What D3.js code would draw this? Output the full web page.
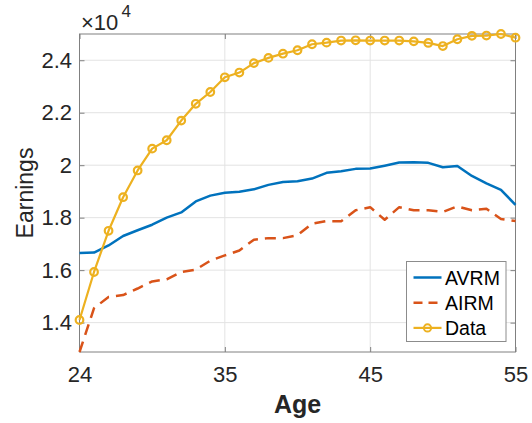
<!DOCTYPE html>
<html>
<head>
<meta charset="utf-8">
<script src="https://cdn.jsdelivr.net/npm/d3@7"></script>
<style>
    body { margin: 0; background: #fff; }
    text { font-family: "Liberation Sans", Arial, Helvetica, sans-serif; }
</style>
</head>
<body>
<div class="vis-linechart"></div>
<script>
// data (earnings, per age)
const ages = [25, 26, 27, 28, 29, 30, 31, 32, 33, 34, 35, 36, 37, 38, 39, 40,
    41, 42, 43, 44, 45, 46, 47, 48, 49, 50, 51, 52, 53, 54, 55];
const avrm = [16650, 16670, 16940, 17300, 17520, 17730, 18000, 18200, 18620, 18840, 18950,
    18990, 19080, 19250, 19360, 19390, 19490, 19710, 19770, 19860, 19870,
    19980, 20100, 20110, 20090, 19920, 19970, 19590, 19310, 19060, 18490];
const airm = [12880, 14550, 14980, 15050, 15300, 15570, 15650, 15930, 16020, 16360, 16560,
    16750, 17160, 17220, 17220, 17330, 17770, 17870, 17860, 18280, 18400,
    17920, 18400, 18280, 18280, 18220, 18430, 18280, 18340, 17950, 17870];
const earnings = [14100, 15930, 17500, 18780, 19800, 20630, 20950, 21700, 22340, 22790, 23350,
    23530, 23890, 24090, 24250, 24380, 24610, 24670, 24750, 24760, 24750,
    24750, 24750, 24720, 24660, 24540, 24800, 24930, 24940, 25000, 24860];

const xTickValues = [25, 35, 45, 55];
const xTickLabels = ['24', '35', '45', '55'];
const yTickValues = [14000, 16000, 18000, 20000, 22000, 24000];
const yTickLabels = ['1.4', '1.6', '1.8', '2', '2.2', '2.4'];

const seriesNames = ['AVRM', 'AIRM', 'Data'];
const seriesColors = ['#0072BD', '#D95319', '#EDB120'];

const W = 532, H = 423;
const margin = { top: 34, right: 16.5, bottom: 71, left: 79.5 };
const width = W - margin.left - margin.right;
const height = H - margin.top - margin.bottom;

const root = d3.select('.vis-linechart')
    .append('svg')
    .attr('width', W)
    .attr('height', H);
const svg = root.append('g')
    .attr('transform', 'translate(' + margin.left + ',' + margin.top + ')');

const series = [avrm, airm, earnings].map((vals, i) => ({
    name: seriesNames[i],
    color: seriesColors[i],
    values: ages.map((a, j) => ({ age: a, v: vals[j] }))
}));

// scales
const x = d3.scaleLinear().domain([25, 55]).range([0, width]);
const allVals = avrm.concat(airm, earnings);
const y = d3.scaleLinear().domain([d3.min(allVals), d3.max(allVals)]).range([height, 0]);

// grid
const grid = svg.append('g').attr('class', 'grid');
grid.selectAll('.gx')
    .data(xTickValues.slice(1, -1))
    .join('line')
    .attr('x1', d => x(d)).attr('x2', d => x(d))
    .attr('y1', 0).attr('y2', height)
    .attr('stroke', '#e3e3e3').attr('stroke-width', 1);
grid.selectAll('.gy')
    .data(yTickValues)
    .join('line')
    .attr('x1', 0).attr('x2', width)
    .attr('y1', d => y(d)).attr('y2', d => y(d))
    .attr('stroke', '#e3e3e3').attr('stroke-width', 1);

// axes (ticks pointing inward, MATLAB style)
const axisColor = '#808080';
const fontSize = 22;

svg.append('g')
    .attr('transform', 'translate(0,' + height + ')')
    .call(d3.axisBottom(x)
        .tickValues(xTickValues)
        .tickFormat((d, i) => xTickLabels[i])
        .tickSizeInner(-5).tickSizeOuter(0).tickPadding(14.5));
svg.append('g')
    .call(d3.axisLeft(y)
        .tickValues(yTickValues)
        .tickFormat((d, i) => yTickLabels[i])
        .tickSizeInner(-5).tickSizeOuter(0).tickPadding(7.5));
// top / right ticks
svg.append('g')
    .call(d3.axisTop(x).tickValues(xTickValues).tickFormat('').tickSizeInner(-5).tickSizeOuter(0));
svg.append('g')
    .attr('transform', 'translate(' + width + ',0)')
    .call(d3.axisRight(y).tickValues(yTickValues).tickFormat('').tickSizeInner(-5).tickSizeOuter(0));

svg.selectAll('.domain').remove();
svg.selectAll('.tick line').attr('stroke', axisColor);
svg.selectAll('.tick text')
    .attr('fill', '#262626')
    .style('font-size', fontSize + 'px');

svg.append('rect')
    .attr('width', width).attr('height', height)
    .attr('fill', 'none')
    .attr('stroke', axisColor).attr('stroke-width', 1);

// exponent label above the y axis
root.append('text')
    .attr('x', 81).attr('y', 29.5)
    .attr('fill', '#262626')
    .attr('font-size', 22)
    .text('\u00d710');
root.append('text')
    .attr('x', 121.5).attr('y', 17)
    .attr('fill', '#262626')
    .attr('font-size', 17)
    .text('4');

// labels
svg.append('text')
    .attr('transform', 'translate(' + (-47) + ',' + (height / 2) + ')rotate(-90)')
    .attr('text-anchor', 'middle')
    .attr('fill', '#262626')
    .style('font-size', '23px')
    .text('Earnings');
svg.append('text')
    .attr('x', width / 2).attr('y', height + 61)
    .attr('text-anchor', 'middle')
    .attr('fill', '#262626')
    .style('font-size', '25px')
    .style('font-weight', 'bold')
    .text('Age');

// lines
const lineGen = d3.line()
    .x(d => x(d.age))
    .y(d => y(d.v));

const lineLayer = svg.append('g').attr('id', 'lineLayer');
series.forEach((s, i) => {
    lineLayer.append('path')
        .attr('d', lineGen(s.values))
        .attr('fill', 'none')
        .attr('stroke', s.color)
        .attr('stroke-width', i === 2 ? 2.2 : 2.5)
        .attr('stroke-dasharray', i === 1 ? '11,7' : null)
        .attr('stroke-linejoin', 'round');
});
lineLayer.selectAll('.dot')
    .data(series[2].values)
    .join('circle')
    .attr('class', 'dot')
    .attr('cx', d => x(d.age))
    .attr('cy', d => y(d.v))
    .attr('r', 3.8)
    .attr('fill', 'none')
    .attr('stroke', series[2].color)
    .attr('stroke-width', 2.2);

// legend
const lx = 406.5 - margin.left, ly = 261.5 - margin.top;
const legend = svg.append('g').attr('transform', 'translate(' + lx + ',' + ly + ')');
legend.append('rect')
    .attr('width', 99.5).attr('height', 80)
    .attr('fill', '#fff')
    .attr('stroke', '#8c8c8c').attr('stroke-width', 1);
series.forEach((s, i) => {
    const yy = 16 + i * 25.2;
    legend.append('line')
        .attr('x1', 7).attr('x2', 35)
        .attr('y1', yy).attr('y2', yy)
        .attr('stroke', s.color)
        .attr('stroke-width', i === 2 ? 2.2 : 2.5)
        .attr('stroke-dasharray', i === 1 ? '9,6' : null);
    if (i === 2) {
        legend.append('circle')
            .attr('cx', 21).attr('cy', yy).attr('r', 3.6)
            .attr('fill', 'none')
            .attr('stroke', s.color).attr('stroke-width', 2);
    }
    legend.append('text')
        .attr('x', 38.5).attr('y', yy)
        .attr('dy', '0.36em')
        .attr('fill', '#000')
        .style('font-size', '19.5px')
        .text(s.name);
});
</script>
</body>
</html>
